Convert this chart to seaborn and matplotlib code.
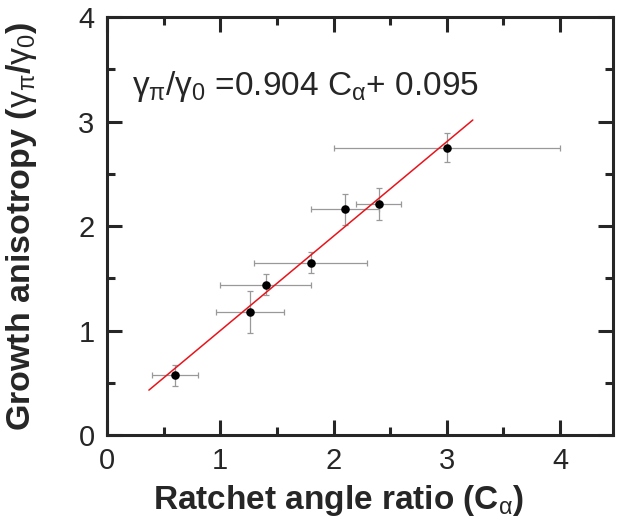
import numpy as np
import pandas as pd
import seaborn as sns
import matplotlib.pyplot as plt
from matplotlib.ticker import MultipleLocator

# data
ratio = [0.60, 1.26, 1.40, 1.80, 2.10, 2.40, 3.00]
anisotropy = [0.57, 1.18, 1.44, 1.65, 2.16, 2.21, 2.75]
ratio_err = [0.20, 0.30, 0.40, 0.50, 0.30, 0.20, 1.00]
aniso_err = [0.10, 0.20, 0.10, 0.10, 0.15, 0.15, 0.14]

slope, intercept = 0.904, 0.095
fit_x = [0.37, 3.23]

df = pd.DataFrame({'ratio': ratio, 'anisotropy': anisotropy})
fit = pd.DataFrame({'x': fit_x, 'y': [slope * v + intercept for v in fit_x]})

sns.set_style('ticks')
plt.rcParams['font.family'] = ['Liberation Sans', 'DejaVu Sans']
plt.rcParams['mathtext.fontset'] = 'custom'
plt.rcParams['mathtext.rm'] = 'Liberation Sans'
plt.rcParams['mathtext.it'] = 'Liberation Sans'
plt.rcParams['mathtext.bf'] = 'Liberation Sans:bold'

fig = plt.figure(figsize=(6.25, 5.31), dpi=100)
ax = fig.add_axes([0.1712, 0.1808, 0.81, 0.787])

ax.errorbar(df['ratio'], df['anisotropy'], xerr=ratio_err, yerr=aniso_err,
            fmt='none', ecolor='#999999', elinewidth=0.9, capsize=2.5, capthick=0.9, zorder=2)
sns.lineplot(data=fit, x='x', y='y', color='#e8141c', linewidth=1.1, ax=ax, zorder=3)
sns.scatterplot(data=df, x='ratio', y='anisotropy', color='black', s=38,
                edgecolor='black', linewidth=0, ax=ax, zorder=4)

ax.set_xlim(0, 4.47)
ax.set_ylim(0, 4)
ax.xaxis.set_major_locator(MultipleLocator(1))
ax.xaxis.set_minor_locator(MultipleLocator(0.5))
ax.yaxis.set_major_locator(MultipleLocator(1))
ax.yaxis.set_minor_locator(MultipleLocator(0.5))
ax.tick_params(which='both', direction='in', top=True, right=True, width=2.2, labelsize=21)
ax.tick_params(which='major', length=11, pad=9)
ax.tick_params(which='minor', length=6)
for sp in ax.spines.values():
    sp.set_linewidth(2.2)

ax.set_xlabel(r'Ratchet angle ratio (C$_\alpha$)', fontsize=24, fontweight='bold')
ax.set_ylabel(r'Growth anisotropy ($\gamma_\pi$/$\gamma_0$)', fontsize=24.5, fontweight='bold')
ax.xaxis.set_label_coords(0.457, -0.115)
ax.yaxis.set_label_coords(-0.135, 0.5)

ax.text(0.22, 3.25, r'$\gamma_\pi$/$\gamma_0$ =0.904 C$_\alpha$+ 0.095', fontsize=24, va='baseline')

fig.savefig('out.png', dpi=100)
